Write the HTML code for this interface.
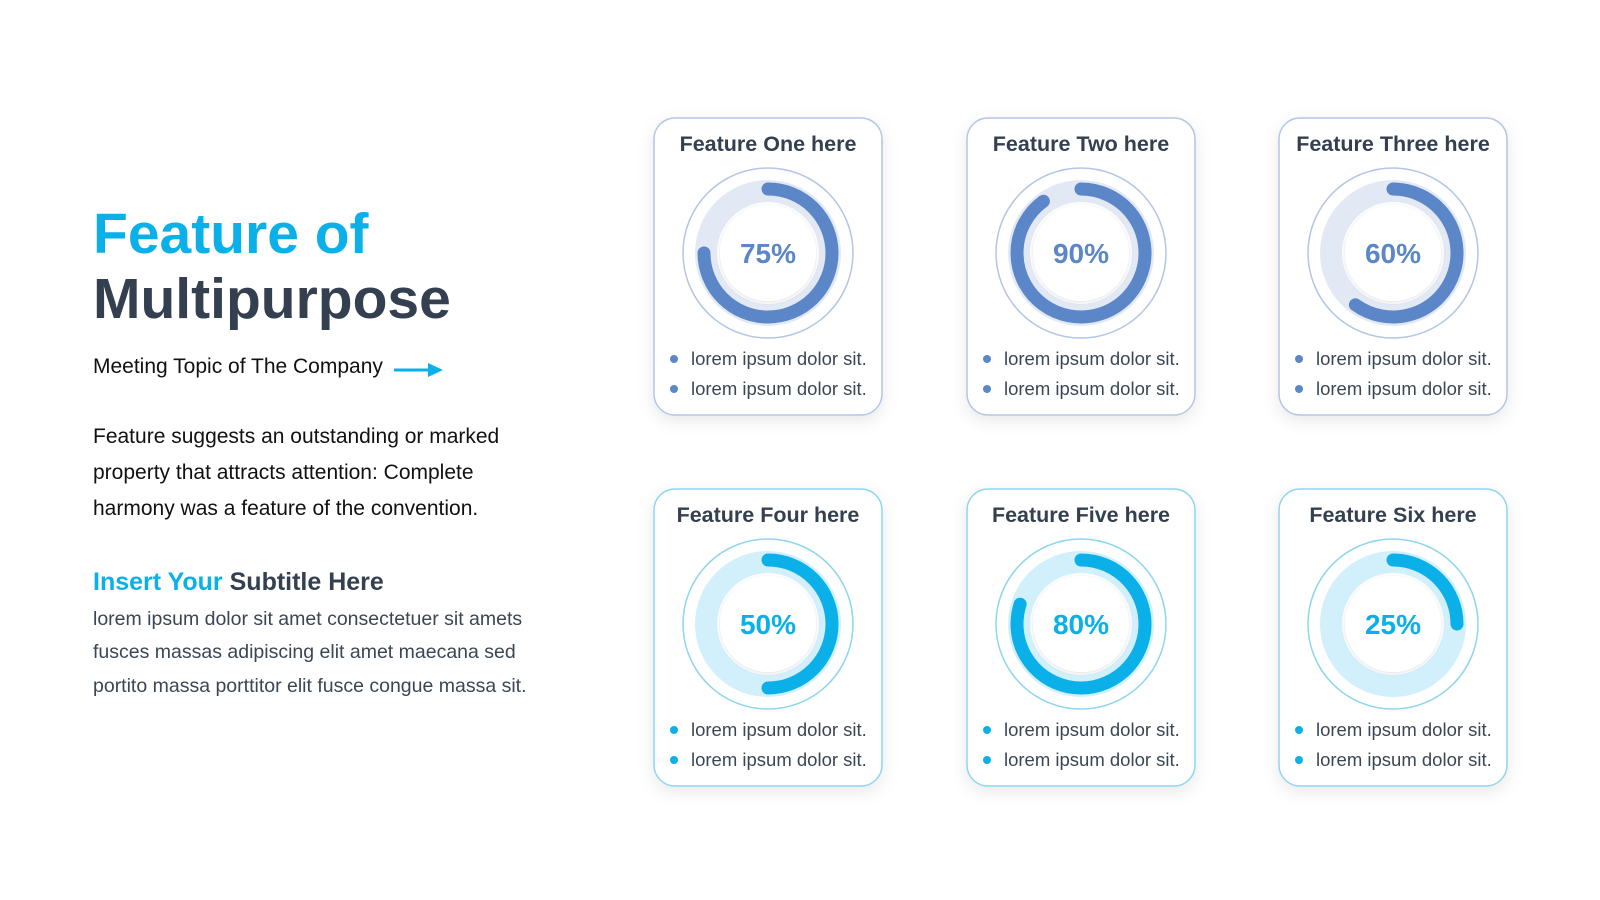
<!DOCTYPE html>
<html><head><meta charset="utf-8">
<style>
body{margin:0;width:1600px;height:900px;background:#fff;font-family:"Liberation Sans","DejaVu Sans",sans-serif;overflow:hidden;position:relative}
.abs{position:absolute}
h1{position:absolute;left:93px;top:202px;margin:0;font-size:57px;line-height:65px;font-weight:bold;color:#344050}
h1 .b{color:#0bb0e8}
.topic{left:93px;top:355px;font-size:21px;color:#111}
.desc{left:93px;top:419px;font-size:21px;line-height:36px;color:#111;width:450px}
.sub{left:93px;top:568px;font-size:25px;font-weight:bold;color:#344050}
.sub span{color:#0bb0e8}
.body{left:93px;top:603px;font-size:19.5px;line-height:33.3px;color:#3b4654;width:445px}
</style></head><body>
<h1><span class="b">Feature of</span><br>Multipurpose</h1>
<div class="abs topic">Meeting Topic of The Company</div>
<svg class="abs" style="left:393px;top:361px" width="52" height="18"><line x1="1" y1="9" x2="39" y2="9" stroke="#0bb0e8" stroke-width="3"/><polygon points="35,2 50,9 35,16" fill="#0bb0e8"/></svg>
<div class="abs desc">Feature suggests an outstanding or marked property that attracts attention: Complete harmony was a feature of the convention.</div>
<div class="abs sub"><span>Insert Your</span> Subtitle Here</div>
<div class="abs body">lorem ipsum dolor sit amet consectetuer sit amets fusces massas adipiscing elit amet maecana sed portito massa porttitor elit fusce congue massa sit.</div>
<svg id="chart" class="abs" style="left:0;top:0" width="1600" height="900">
<defs>
<filter id="sh" x="-20%" y="-20%" width="140%" height="140%"><feDropShadow dx="0" dy="5" stdDeviation="8" flood-color="#000" flood-opacity="0.09"/></filter>
<filter id="ish"><feDropShadow dx="0" dy="1" stdDeviation="2" flood-color="#000" flood-opacity="0.12"/></filter>
</defs>
</svg>
<script>
const titles=["Feature One here","Feature Two here","Feature Three here","Feature Four here","Feature Five here","Feature Six here"];
const values=[75,90,60,50,80,25];
const bullets=["lorem ipsum dolor sit.","lorem ipsum dolor sit."];
const NS="http://www.w3.org/2000/svg";
const svg=document.getElementById('chart');
function mk(t,a,p){const e=document.createElementNS(NS,t);for(const k in a)e.setAttribute(k,a[k]);(p||svg).appendChild(e);return e;}
const colX=[654,967,1279],rowY=[118,489];
const themes=[{c:"#5b86c8",bg:"#e3e9f4",bd:"#b3c6e4"},{c:"#0bb0e8",bg:"#d2f0fb",bd:"#8ed6f0"}];
function angleFor(v){return v/100*2*Math.PI;}
values.forEach((v,i)=>{
  const r=Math.floor(i/3),col=i%3,th=themes[r];
  const x=colX[col],y=rowY[r],cx=x+114,cy=y+135;
  const g=mk('g',{});
  
  
  mk('rect',{x:x,y:y,width:228,height:297,rx:21,fill:'#fff',stroke:th.bd,'stroke-width':1.5,filter:'url(#sh)'},g);
  const t=mk('text',{x:cx,y:y+33,'text-anchor':'middle','font-size':21.5,'font-weight':'bold',fill:'#344050'},g);
  t.textContent=titles[i];
  
  
  mk('circle',{cx:cx,cy:cy,r:85,fill:'#fff',stroke:th.bd,'stroke-width':1.5},g);
  mk('circle',{cx:cx,cy:cy,r:62,fill:'none',stroke:th.bg,'stroke-width':22},g);
  mk('circle',{cx:cx,cy:cy,r:48,fill:'#fff',filter:'url(#ish)'},g);
  const R=64,a=angleFor(v);
  const ex=cx+R*Math.sin(a),ey=cy-R*Math.cos(a);
  const arc=mk('path',{d:`M${cx},${cy-R} A${R},${R} 0 ${v>50?1:0} 1 ${ex},${ey}`,fill:'none',stroke:th.c,'stroke-width':13,'stroke-linecap':'round'},g);
  
  
  const p=mk('text',{x:cx,y:cy+10,'text-anchor':'middle','font-size':28,'font-weight':'bold',fill:th.c},g);
  p.textContent=v+'%';
  
  
  bullets.forEach((b,j)=>{
    const by=y+241+j*30;
    mk('circle',{cx:x+20,cy:by,r:4,fill:th.c},g);
    const bt=mk('text',{x:x+37,y:by+6,'font-size':18.5,fill:'#3b4654'},g);
    bt.textContent=b;
    
    
  });
});
</script>
</body></html>
